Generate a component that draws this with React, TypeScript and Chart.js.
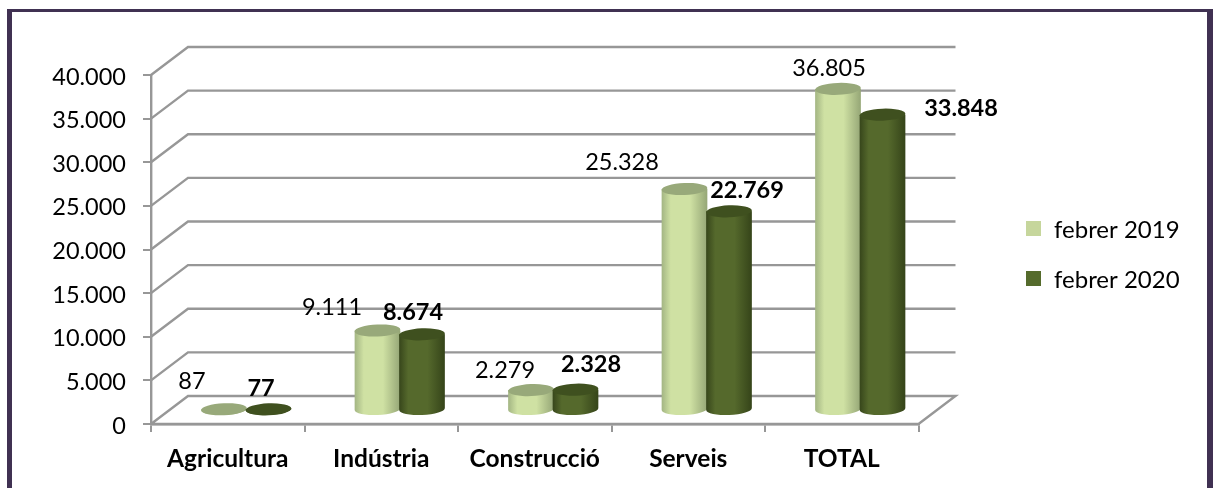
import React, { useEffect, useRef } from "react";
import { Chart, registerables } from "chart.js";

Chart.register(...registerables);

const categories = ["Agricultura", "Indústria", "Construcció", "Serveis", "TOTAL"];
const seriesNames = ["febrer 2019", "febrer 2020"];
const values2019 = [87, 9111, 2279, 25328, 36805];
const values2020 = [77, 8674, 2328, 22769, 33848];
const yTicks = [0, 5000, 10000, 15000, 20000, 25000, 30000, 35000, 40000];

const FONT = "Lato, Carlito, sans-serif";
const legendColors = ["#C6D69C", "#556B2C"];
const labelOffsets = [
  [[-13.5, -41.5], [-27, -36.7], [-7.5, -33.4], [-44, -41], [9.5, -34]],
  [[11, -34.6], [9.5, -35.6], [34, -39], [36.5, -34.5], [97, -20.7]],
];
const cylinderStyles = [
  { stops: ["#A3B583", "#CFE1A3", "#CFE1A3", "#95A676"], top: "#98A97A" },
  { stops: ["#37461B", "#55692C", "#55692C", "#354419"], top: "#3F501F" },
];
const GRID = "#979797";
const BACK_DX = 37;
const BACK_DY = -28;
const BAR_DX = 18.5;
const BAR_DY = -14;
const RY = 6;
const TILT = -0.04;

const fmt = (v: number) => String(v).replace(/\B(?=(\d{3})+(?!\d))/g, ".");

const depthPlugin = {
  id: "depth3d",
  beforeDatasetDraw() {
    return false;
  },
  beforeDatasetsDraw(chart: any) {
    const { ctx, chartArea, scales } = chart;
    const { left, right, bottom } = chartArea;
    ctx.save();
    ctx.strokeStyle = GRID;
    ctx.lineWidth = 2.4;
    ctx.lineJoin = "miter";
    yTicks.forEach((t) => {
      const y = scales.y.getPixelForValue(t);
      ctx.beginPath();
      ctx.moveTo(left, y);
      ctx.lineTo(left + BACK_DX, y + BACK_DY);
      ctx.lineTo(right + BACK_DX, y + BACK_DY);
      if (t === 0) {
        ctx.lineTo(right, bottom);
        ctx.lineTo(left, bottom);
      }
      ctx.stroke();
    });
    // cylinders, first series underneath the second one
    chart.data.datasets.forEach((_: any, di: number) => {
      const st = cylinderStyles[di];
      chart.getDatasetMeta(di).data.forEach((el: any) => {
        const w = el.width + 1.2;
        const rx = w / 2;
        const cx = el.x + BAR_DX;
        const top = el.y + BAR_DY;
        const base = el.base + BAR_DY;
        const g = ctx.createLinearGradient(cx - rx, 0, cx + rx, 0);
        g.addColorStop(0, st.stops[0]);
        g.addColorStop(0.2, st.stops[1]);
        g.addColorStop(0.62, st.stops[2]);
        g.addColorStop(1, st.stops[3]);
        ctx.fillStyle = g;
        ctx.beginPath();
        ctx.ellipse(cx, base, rx, RY, TILT, 0, Math.PI, false);
        ctx.lineTo(cx - rx, top);
        ctx.lineTo(cx + rx, top);
        ctx.closePath();
        ctx.fill();
        ctx.fillStyle = st.top;
        ctx.beginPath();
        ctx.ellipse(cx, top, rx, RY, TILT, 0, Math.PI * 2);
        ctx.fill();
      });
    });
    ctx.restore();
  },
  afterDatasetsDraw(chart: any) {
    const { ctx } = chart;
    ctx.save();
    ctx.fillStyle = "#000";
    ctx.textAlign = "center";
    ctx.textBaseline = "middle";
    chart.data.datasets.forEach((ds: any, di: number) => {
      ctx.font = `${di === 1 ? "bold " : ""}23.5px ${FONT}`;
      chart.getDatasetMeta(di).data.forEach((el: any, i: number) => {
        const [dx, dy] = labelOffsets[di][i];
        ctx.fillText(fmt(ds.data[i]), el.x + dx, el.y + dy);
      });
    });
    // legend
    ctx.textAlign = "left";
    ctx.font = `24px ${FONT}`;
    chart.data.datasets.forEach((ds: any, di: number) => {
      const y = 229 + di * 50;
      ctx.fillStyle = ds.backgroundColor;
      ctx.fillRect(1026, y - 8, 15, 15);
      ctx.fillStyle = "#000";
      ctx.fillText(ds.label, 1054, y + 1);
    });
    ctx.restore();
  },
};

const nudgeLabels = (s: any) => {
  if (s.__nudged) return;
  s.__nudged = true;
  const orig = s.getLabelItems.bind(s);
  s.getLabelItems = (area: any) =>
    orig(area).map((it: any) => ({ ...it, textOffset: it.textOffset + 2 }));
};

export default function App() {
  const ref = useRef<HTMLCanvasElement>(null);
  useEffect(() => {
    const chart = new Chart(ref.current as HTMLCanvasElement, {
      type: "bar",
      data: {
        labels: categories,
        datasets: [
          { label: seriesNames[0], data: values2019, backgroundColor: legendColors[0] },
          { label: seriesNames[1], data: values2020, backgroundColor: legendColors[1] },
        ],
      },
      plugins: [depthPlugin],
      options: {
        responsive: false,
        animation: false,
        layout: { padding: { left: 0, top: 75, right: 295.5, bottom: 0 } },
        plugins: { legend: { display: false }, tooltip: { enabled: false }, title: { display: false } },
        datasets: { bar: { categoryPercentage: 0.58, barPercentage: 1 } },
        scales: {
          x: {
            afterFit: (s: any) => { s.height = 64; },
            border: { color: GRID, width: 2.4 },
            grid: { drawOnChartArea: false, color: GRID, lineWidth: 2, tickLength: 8 },
            ticks: {
              padding: 12,
              color: "#000",
              maxRotation: 0,
              font: { family: FONT, size: 24.5, weight: "bold" },
            },
          },
          y: {
            min: 0,
            max: 40000,
            afterFit: (s: any) => { s.width = 151; nudgeLabels(s); },
            border: { color: GRID, width: 2.4 },
            grid: { drawOnChartArea: false, color: GRID, lineWidth: 2, tickLength: 8 },
            ticks: {
              stepSize: 5000,
              padding: 17,
              color: "#000",
              font: { family: FONT, size: 23.5 },
              callback: (v: any) => fmt(Number(v)),
            },
          },
        },
      } as any,
    });
    return () => chart.destroy();
  }, []);
  return (
    <div style={{ position: "fixed", left: 0, top: 0, width: 1214, height: 488, background: "#fff", overflow: "hidden" }}>
      <canvas ref={ref} width={1214} height={488} style={{ position: "absolute", left: 0, top: 0 }} />
      <div
        style={{
          position: "absolute",
          left: 7,
          top: 9,
          width: 1195,
          height: 490,
          borderStyle: "solid",
          borderColor: "#403152",
          borderWidth: "3px 6px 0 5px",
          pointerEvents: "none",
        }}
      />
    </div>
  );
}
